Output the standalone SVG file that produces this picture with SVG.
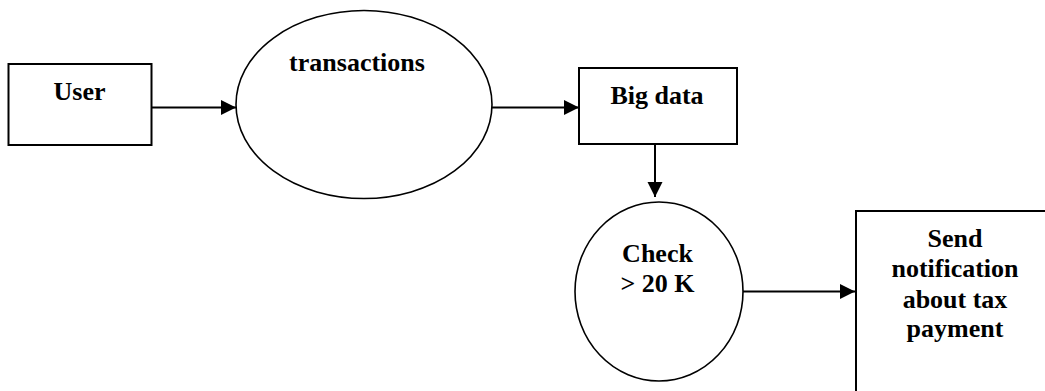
<svg xmlns="http://www.w3.org/2000/svg" width="1045" height="391" viewBox="0 0 1045 391">
<style>
.box{fill:#fff;stroke:#000;stroke-width:2}
.ell{fill:#fff;stroke:#000;stroke-width:1.6}
.lbl{font-family:'Liberation Serif',Tinos,'Times New Roman','DejaVu Serif',serif;font-weight:700;font-size:26px;fill:#000;text-anchor:middle}
.edge{stroke:#000;stroke-width:2;fill:none}
</style>
<defs>
<marker id="arr" markerUnits="userSpaceOnUse" markerWidth="16" markerHeight="16" refX="15" refY="7.5" orient="auto">
<path d="M0,0 L15,7.5 L0,15 z" fill="#000"/>
</marker>
</defs>
<rect width="1045" height="391" fill="#fff"/>
<g id="user">
<rect class="box" x="8.5" y="64" width="143" height="81"/>
<text class="lbl" x="79.5" y="100" font-family="Liberation Serif, serif">User</text>
</g>
<g id="transactions">
<ellipse class="ell" cx="364" cy="104.5" rx="128" ry="94"/>
<text class="lbl" x="357" y="71" font-family="Liberation Serif, serif">transactions</text>
</g>
<g id="bigdata">
<rect class="box" x="579" y="68" width="158" height="76"/>
<text class="lbl" x="657" y="104" font-family="Liberation Serif, serif">Big data</text>
</g>
<g id="check">
<ellipse class="ell" cx="659" cy="291.5" rx="84" ry="89.5"/>
<text class="lbl" x="657.5" y="262" font-family="Liberation Serif, serif">Check</text>
<text class="lbl" x="657.5" y="292" font-family="Liberation Serif, serif">&gt; 20 K</text>
</g>
<g id="send">
<rect class="box" x="856" y="211" width="260" height="260"/>
<text class="lbl" x="955" y="247" font-family="Liberation Serif, serif">Send</text>
<text class="lbl" x="955" y="277" font-family="Liberation Serif, serif">notification</text>
<text class="lbl" x="955" y="308" font-family="Liberation Serif, serif">about tax</text>
<text class="lbl" x="955" y="337" font-family="Liberation Serif, serif">payment</text>
</g>
<g id="connectors">
<line class="edge" x1="152" y1="107.5" x2="236" y2="107.5" marker-end="url(#arr)"/>
<line class="edge" x1="492" y1="107.5" x2="579" y2="107.5" marker-end="url(#arr)"/>
<line class="edge" x1="655" y1="144" x2="655" y2="197" marker-end="url(#arr)"/>
<line class="edge" x1="743" y1="291.5" x2="855" y2="291.5" marker-end="url(#arr)"/>
</g>
</svg>
